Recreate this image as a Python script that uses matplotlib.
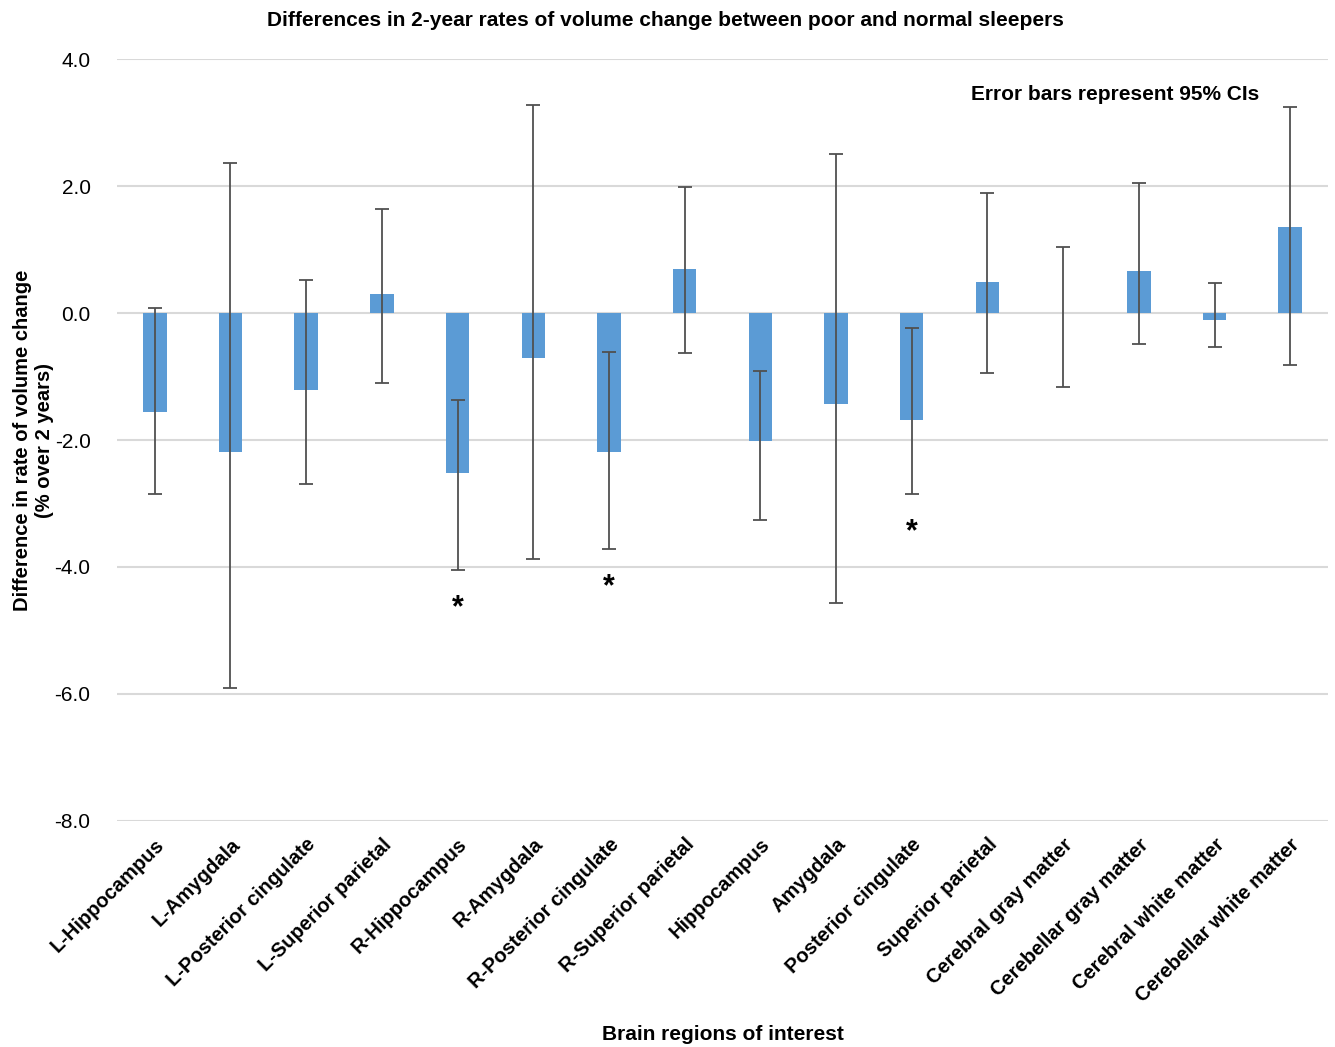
import numpy as np
import matplotlib.pyplot as plt

plt.rcParams['font.family'] = ['Liberation Sans', 'DejaVu Sans']

regions = ['L-Hippocampus', 'L-Amygdala', 'L-Posterior cingulate', 'L-Superior parietal',
           'R-Hippocampus', 'R-Amygdala', 'R-Posterior cingulate', 'R-Superior parietal',
           'Hippocampus', 'Amygdala', 'Posterior cingulate', 'Superior parietal',
           'Cerebral gray matter', 'Cerebellar gray matter', 'Cerebral white matter',
           'Cerebellar white matter']
diff = [-1.56, -2.19, -1.21, 0.30, -2.52, -0.71, -2.19, 0.69,
        -2.02, -1.43, -1.69, 0.49, 0.00, 0.66, -0.11, 1.35]
ci_low = [-2.85, -5.90, -2.69, -1.10, -4.05, -3.87, -3.72, -0.63,
          -3.26, -4.57, -2.85, -0.94, -1.17, -0.49, -0.54, -0.82]
ci_high = [0.08, 2.36, 0.52, 1.64, -1.37, 3.28, -0.61, 1.98,
           -0.91, 2.50, -0.24, 1.89, 1.04, 2.05, 0.47, 3.24]
significant = ['R-Hippocampus', 'R-Posterior cingulate', 'Posterior cingulate']

x = np.arange(len(regions))
diff = np.array(diff)
yerr = [diff - np.array(ci_low), np.array(ci_high) - diff]

fig = plt.figure(figsize=(13.35, 10.47), dpi=100)
ax = fig.add_axes([0.0876, 0.2159, 0.9072, 0.7277])

ax.bar(x, diff, width=0.31, color='#5b9bd5', zorder=2)
ax.errorbar(x, diff, yerr=yerr, fmt='none', ecolor='#505050', elinewidth=1.3,
            capsize=5, capthick=1.3, zorder=3)

# asterisks under the significant differences
for name in significant:
    i = regions.index(name)
    ax.text(x[i], ci_low[i] - 0.6, '*', ha='center', va='center',
            fontsize=22, fontweight='bold', zorder=4)

ax.set_xlim(-0.5, len(regions) - 0.5)
ax.set_ylim(-8, 4)
ax.set_yticks(np.arange(-8, 4.1, 2))
ax.set_yticklabels([f'{v:.1f}' for v in np.arange(-8, 4.1, 2)], fontsize=15)
ax.set_xticks(x)
ax.set_xticklabels(regions, rotation=45, ha='right', rotation_mode='anchor',
                   fontsize=14.5, fontweight='bold')
ax.tick_params(axis='x', length=0, pad=10)
ax.tick_params(axis='y', length=0, pad=19)
ax.yaxis.grid(True, color='#d9d9d9', linewidth=1.5, zorder=0)
ax.set_axisbelow(True)
for s in ax.spines.values():
    s.set_visible(False)

ax.set_ylabel('Difference in rate of volume change\n(% over 2 years)', fontsize=14.5,
              fontweight='bold')
ax.yaxis.set_label_coords(-0.052, 0.5)
ax.set_xlabel('Brain regions of interest', fontsize=15, fontweight='bold', labelpad=14)
fig.text(0.4985, 0.980, 'Differences in 2-year rates of volume change between poor and normal sleepers',
         ha='center', va='center', fontsize=15, fontweight='bold')
fig.text(0.8355, 0.910, 'Error bars represent 95% CIs',
         ha='center', va='center', fontsize=15, fontweight='bold')

fig.savefig('out.png', dpi=100)
